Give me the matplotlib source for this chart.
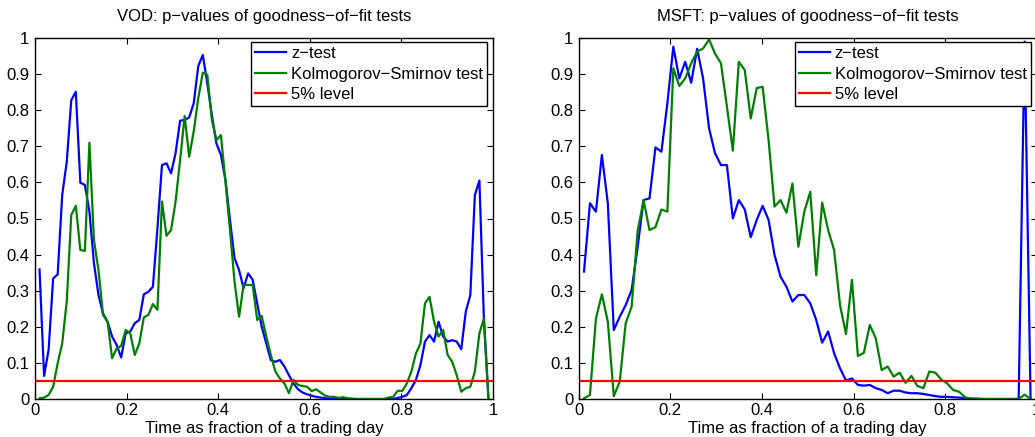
import numpy as np
import matplotlib
matplotlib.use("Agg")
import matplotlib.pyplot as plt

plt.rcParams['font.family'] = ['Liberation Sans', 'DejaVu Sans']

# ---------------- data ----------------
vod_time = np.arange(1, 101) / 101.0
vod_z = [0.359, 0.064, 0.136, 0.334, 0.345, 0.565, 0.657, 0.828, 0.851, 0.599,
         0.593, 0.519, 0.376, 0.288, 0.237, 0.214, 0.173, 0.150, 0.115, 0.182,
         0.187, 0.210, 0.219, 0.290, 0.297, 0.311, 0.473, 0.648, 0.653, 0.625,
         0.681, 0.771, 0.773, 0.780, 0.819, 0.922, 0.953, 0.874, 0.787, 0.708,
         0.676, 0.607, 0.496, 0.390, 0.357, 0.307, 0.348, 0.330, 0.265, 0.200,
         0.154, 0.108, 0.103, 0.108, 0.090, 0.066, 0.043, 0.027, 0.018, 0.013,
         0.009, 0.006, 0.004, 0.002, 0.001, 0.0, 0.0, 0.0, 0.0, 0.0,
         0.0, 0.0, 0.0, 0.0, 0.0, 0.0, 0.0, 0.0, 0.0, 0.003,
         0.006, 0.011, 0.030, 0.053, 0.094, 0.159, 0.177, 0.159, 0.214, 0.173,
         0.159, 0.163, 0.159, 0.138, 0.242, 0.288, 0.565, 0.605, 0.220, 0.0]
vod_ks = [0.002, 0.004, 0.011, 0.034, 0.099, 0.154, 0.270, 0.510, 0.535, 0.413,
          0.410, 0.710, 0.440, 0.357, 0.233, 0.214, 0.113, 0.140, 0.147, 0.191,
          0.182, 0.122, 0.154, 0.226, 0.233, 0.263, 0.247, 0.547, 0.452, 0.468,
          0.547, 0.662, 0.784, 0.671, 0.741, 0.833, 0.904, 0.898, 0.773, 0.717,
          0.731, 0.602, 0.468, 0.325, 0.228, 0.316, 0.316, 0.316, 0.219, 0.230,
          0.173, 0.122, 0.076, 0.057, 0.043, 0.016, 0.053, 0.039, 0.036, 0.034,
          0.022, 0.027, 0.018, 0.009, 0.006, 0.006, 0.003, 0.005, 0.002, 0.001,
          0.0, 0.0, 0.0, 0.0, 0.0, 0.0, 0.0, 0.004, 0.006, 0.023,
          0.022, 0.043, 0.076, 0.126, 0.154, 0.265, 0.283, 0.214, 0.173, 0.191,
          0.122, 0.103, 0.066, 0.020, 0.030, 0.034, 0.076, 0.182, 0.223, 0.0]

msft_time = np.linspace(0.0116, 0.9866, 76)
msft_z = [0.353, 0.542, 0.519, 0.676, 0.542, 0.191, 0.228, 0.260, 0.302, 0.420,
          0.551, 0.556, 0.697, 0.685, 0.819, 0.976, 0.888, 0.934, 0.876, 0.970,
          0.888, 0.750, 0.681, 0.648, 0.648, 0.500, 0.551, 0.525, 0.448, 0.496,
          0.535, 0.496, 0.399, 0.339, 0.311, 0.270, 0.288, 0.288, 0.265, 0.219,
          0.156, 0.187, 0.127, 0.085, 0.051, 0.057, 0.039, 0.037, 0.039, 0.030,
          0.025, 0.016, 0.023, 0.023, 0.018, 0.016, 0.016, 0.014, 0.011, 0.008,
          0.006, 0.006, 0.005, 0.004, 0.002, 0.001, 0.001, 0.0, 0.0, 0.0,
          0.0, 0.0, 0.0, 0.0, 0.99, 0.0]
msft_ks = [0.002, 0.011, 0.223, 0.290, 0.214, 0.008, 0.048, 0.210, 0.256, 0.464,
           0.551, 0.468, 0.476, 0.525, 0.519, 0.916, 0.867, 0.888, 0.930, 0.962,
           0.971, 0.996, 0.957, 0.930, 0.810, 0.688, 0.934, 0.911, 0.777, 0.861,
           0.865, 0.717, 0.533, 0.551, 0.516, 0.597, 0.422, 0.519, 0.574, 0.343,
           0.544, 0.468, 0.413, 0.260, 0.180, 0.330, 0.119, 0.128, 0.205, 0.168,
           0.080, 0.090, 0.062, 0.073, 0.045, 0.064, 0.036, 0.030, 0.076, 0.073,
           0.054, 0.043, 0.025, 0.020, 0.005, 0.001, 0.0, 0.0, 0.0, 0.0,
           0.0, 0.0, 0.0, 0.0, 0.012, 0.0]

level = 0.05
titles = ["VOD: p\u2212values of goodness\u2212of\u2212fit tests",
          "MSFT: p\u2212values of goodness\u2212of\u2212fit tests"]
labels = ["z\u2212test", "Kolmogorov\u2212Smirnov test", "5% level"]
xlabel = "Time as fraction of a trading day"
xticks = [0, 0.2, 0.4, 0.6, 0.8, 1]
xticklabels = ["0", "0.2", "0.4", "0.6", "0.8", "1"]
yticks = [0, 0.1, 0.2, 0.3, 0.4, 0.5, 0.6, 0.7, 0.8, 0.9, 1]
yticklabels = ["0", "0.1", "0.2", "0.3", "0.4", "0.5", "0.6", "0.7", "0.8", "0.9", "1"]

# ---------------- figure ----------------
W, H = 1035, 437
fig = plt.figure(figsize=(W / 100, H / 100), dpi=100)

def px_axes(x0, y0, w, h):
    return fig.add_axes([x0 / W, (H - y0 - h) / H, w / W, h / H])

axes = [px_axes(35, 38, 458, 361), px_axes(578.7, 38, 458, 361)]
datasets = [(vod_time, vod_z, vod_ks), (msft_time, msft_z, msft_ks)]

FS = 12
for ax, (t, z, ks), title in zip(axes, datasets, titles):
    ax.plot(t, z, color=(0, 0, 1), lw=1.6, label=labels[0])
    ax.plot(t, ks, color=(0, 0.5, 0), lw=1.6, label=labels[1])
    ax.axhline(level, color=(1, 0, 0), lw=1.6, label=labels[2])
    ax.set_xlim(0, 1)
    ax.set_ylim(0, 1)
    ax.set_xticks(xticks)
    ax.set_xticklabels(xticklabels)
    ax.set_yticks(yticks)
    ax.set_yticklabels(yticklabels)
    ax.tick_params(direction='in', length=4, width=0.8, top=True, right=True,
                   labelsize=FS, pad=3, colors='black')
    ax.tick_params(axis='y', pad=4)
    for s in ax.spines.values():
        s.set_linewidth(1.0)
        s.set_color('black')
    ax.set_title(title, fontsize=FS, pad=12)
    ax.set_xlabel(xlabel, fontsize=FS, labelpad=2)
    leg = ax.legend(loc='upper right', bbox_to_anchor=(0.987, 0.989),
                    borderaxespad=0, fontsize=FS, fancybox=False,
                    framealpha=1, edgecolor='black', handlelength=1.85,
                    handletextpad=0.28, labelspacing=0.33, borderpad=0.25)
    leg.get_frame().set_linewidth(1.0)

fig.savefig("out.png", dpi=100)
